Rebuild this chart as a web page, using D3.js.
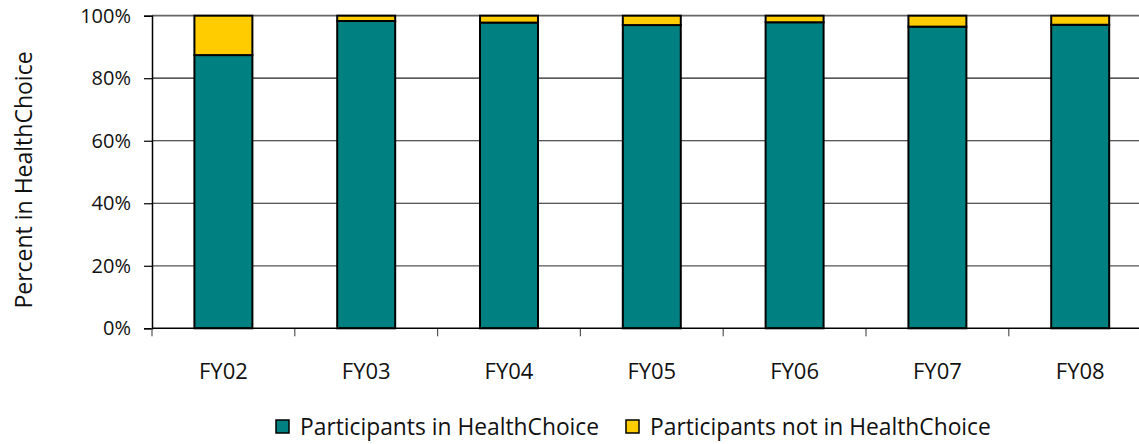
<!DOCTYPE html>
<html>
<head>
<meta charset="utf-8">
<script src="https://cdn.jsdelivr.net/npm/d3@7"></script>
<style>
  html, body { margin: 0; padding: 0; background: #fff; }
  svg { display: block; font-family: "Open Sans", sans-serif; }
</style>
</head>
<body>
<svg id="chart" width="1139" height="444"></svg>
<script>
const categories = ["FY02", "FY03", "FY04", "FY05", "FY06", "FY07", "FY08"];
const inHealthChoice = [87.4, 98.3, 97.8, 97.0, 97.9, 96.5, 97.1];
const notInHealthChoice = inHealthChoice.map(v => 100 - v);
const yTicks = [0, 20, 40, 60, 80, 100];
const seriesNames = ["Participants in HealthChoice", "Participants not in HealthChoice"];
const seriesColors = ["#008080", "#FFCC00"];

const svg = d3.select("#chart");
const plotLeft = 152, plotTop = 15.7, plotBottom = 328.3, step = 142.8;
const plotRight = plotLeft + step * categories.length;

const x = d3.scaleBand().domain(categories).range([plotLeft, plotRight])
  .paddingInner(0.594).paddingOuter(0.297);
const y = d3.scaleLinear().domain([0, 100]).range([plotBottom, plotTop]);

// gridlines
svg.append("g").selectAll("line").data(yTicks.filter(t => t > 0)).join("line")
  .attr("x1", plotLeft).attr("x2", 1139)
  .attr("y1", d => y(d)).attr("y2", d => y(d))
  .attr("stroke", d => d === 100 ? "#666" : (d === 20 ? "#555" : "#222"))
  .attr("stroke-width", d => d === 100 ? 1.8 : 1.2);

// y axis
const yAxis = d3.axisLeft(y).tickValues(yTicks).tickFormat(d => d + "%").tickSize(8).tickPadding(13);
const gy = svg.append("g").attr("transform", `translate(${plotLeft},0)`).call(yAxis);
gy.select(".domain").attr("stroke", "#000").attr("stroke-width", 1.5);
gy.selectAll(".tick line").attr("stroke", "#000").attr("stroke-width", 1.2);
gy.selectAll(".tick text").attr("font-size", 20).attr("fill", "#111")
  .attr("font-family", "'Open Sans', sans-serif");

// x axis ticks at band boundaries
const boundaries = d3.range(categories.length + 1).map(i => plotLeft + i * step);
svg.append("g").selectAll("line").data(boundaries).join("line")
  .attr("x1", d => d).attr("x2", d => d).attr("y1", plotBottom).attr("y2", plotBottom + 8)
  .attr("stroke", "#555").attr("stroke-width", 1.2);

// bars
const stacks = categories.map((c, i) => ({ c, a: inHealthChoice[i], b: notInHealthChoice[i] }));
const bars = svg.append("g");
bars.selectAll("rect.in").data(stacks).join("rect").attr("class", "in")
  .attr("x", d => x(d.c)).attr("width", x.bandwidth())
  .attr("y", d => y(d.a)).attr("height", d => y(0) - y(d.a))
  .attr("fill", seriesColors[0]).attr("stroke", "#000").attr("stroke-width", 2);
bars.selectAll("rect.out").data(stacks).join("rect").attr("class", "out")
  .attr("x", d => x(d.c)).attr("width", x.bandwidth())
  .attr("y", d => y(d.a + d.b)).attr("height", d => y(d.a) - y(d.a + d.b))
  .attr("fill", seriesColors[1]).attr("stroke", "#000").attr("stroke-width", 2);

// x axis line
svg.append("line").attr("x1", plotLeft).attr("x2", 1139).attr("y1", plotBottom).attr("y2", plotBottom)
  .attr("stroke", "#000").attr("stroke-width", 1.5);

// x labels
svg.append("g").selectAll("text").data(categories).join("text")
  .attr("x", d => x(d) + x.bandwidth() / 2).attr("y", 379)
  .attr("text-anchor", "middle").attr("font-size", 22).attr("fill", "#111")
  .text(d => d);

// y label
svg.append("text").attr("transform", "translate(32,180) rotate(-90)")
  .attr("text-anchor", "middle").attr("font-size", 23).attr("fill", "#111")
  .text("Percent in HealthChoice");

// legend
const legendX = [276, 626];
const lg = svg.append("g");
seriesNames.forEach((name, i) => {
  lg.append("rect").attr("x", legendX[i]).attr("y", 420).attr("width", 13).attr("height", 13)
    .attr("fill", seriesColors[i]).attr("stroke", "#000").attr("stroke-width", 1.5);
  lg.append("text").attr("x", legendX[i] + 24).attr("y", 435)
    .attr("font-size", 22.8).attr("fill", "#111").text(name);
});
</script>
</body>
</html>
